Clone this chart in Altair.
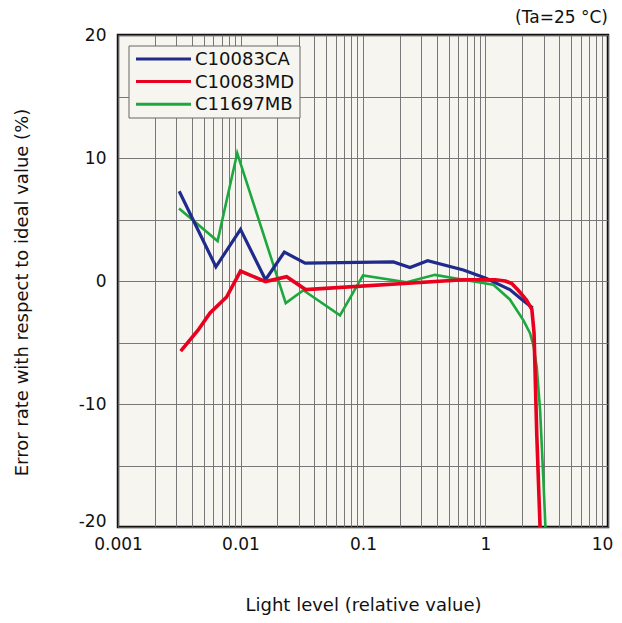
import altair as alt
import pandas as pd

SERIES = ["C10083CA", "C10083MD", "C11697MB"]
COLORS = ["#1f2a8c", "#e8001e", "#1ca83e"]
WIDTHS = [3.2, 3.6, 2.6]

CA_X = [0.00316, 0.0063, 0.01, 0.016, 0.0228, 0.0337, 0.177, 0.242, 0.337, 0.66, 1.02, 1.58, 1.98, 2.43]
CA_Y = [7.3, 1.15, 4.2, 0.1, 2.35, 1.45, 1.55, 1.1, 1.65, 0.9, 0.2, -0.7, -1.5, -2.2]

MD_X = [0.00325, 0.0045, 0.00564, 0.0077, 0.01, 0.016, 0.0238, 0.034, 0.66, 1.2, 1.45,
        1.64, 1.85, 2.16, 2.39, 2.49, 2.62, 2.8]
MD_Y = [-5.7, -4.0, -2.6, -1.3, 0.8, -0.05, 0.35, -0.7, 0.1, 0.1, 0.0,
        -0.2, -0.75, -1.55, -2.3, -4.2, -12.4, -20.5]

MB_X = [0.00315, 0.0065, 0.0094, 0.0234, 0.0326, 0.0649, 0.1, 0.227, 0.387, 0.66, 1.16,
        1.58, 2.04, 2.31, 2.47, 2.62, 2.79, 2.96, 3.1]
MB_Y = [5.9, 3.25, 10.4, -1.8, -0.75, -2.8, 0.45, -0.1, 0.5, 0.1, -0.3,
        -1.5, -3.2, -4.25, -5.3, -7.0, -10.5, -15.9, -20.5]

XS = [CA_X, MD_X, MB_X]
YS = [CA_Y, MD_Y, MB_Y]

X_GRID = [k * 10.0 ** e for e in range(-3, 1) for k in range(1, 10)] + [10.0]
Y_GRID = [-20, -15, -10, -5, 0, 5, 10, 15, 20]

FONT = "DejaVu Sans"
W, H = 490, 492

x_scale = alt.Scale(type="log", domain=[0.001, 10], nice=False)
y_scale = alt.Scale(domain=[-20, 20], nice=False, zero=False)

x_axis = alt.Axis(
    values=X_GRID,
    labelExpr="abs(log(datum.value)/LN10 - round(log(datum.value)/LN10)) < 0.000001 ? format(datum.value, '~g') : ''",
    labelOverlap=False, labelFlush=False, ticks=False, domain=False,
    labelOffset={"condition": {"test": "datum.value == 10", "value": -6}, "value": 0},
    grid=True, gridColor="#6a6a6a", gridWidth=1, gridOpacity=0.9,
    labelFont=FONT, labelFontSize=17, labelColor="#111", labelPadding=9,
    title="Light level (relative value)", titleFont=FONT, titleFontSize=18,
    titleFontWeight="normal", titleColor="#111", titleY=83, titleBaseline="alphabetic",
)
y_axis = alt.Axis(
    values=Y_GRID,
    labelExpr="datum.value % 10 == 0 ? '' + datum.value : ''",
    labelOverlap=False, labelFlush=False, ticks=False, domain=False,
    labelOffset={"condition": {"test": "datum.value == -20", "value": -6}, "value": 0},
    grid=True, gridColor="#6a6a6a", gridWidth=1, gridOpacity=0.9,
    labelFont=FONT, labelFontSize=17, labelColor="#111", labelPadding=12,
    title="Error rate with respect to ideal value (%)", titleFont=FONT, titleFontSize=18,
    titleFontWeight="normal", titleColor="#111", titleX=-96, titleY=257,
    titleAngle=-90, titleAlign="center", titleBaseline="middle",
)

layers = []
order = [2, 0, 1]
for i in order:
    df = pd.DataFrame({"x": XS[i], "y": YS[i], "s": SERIES[i]})
    layer = alt.Chart(df).mark_line(
        color=COLORS[i], strokeWidth=WIDTHS[i], clip=True, strokeJoin="miter"
    ).encode(
        x=alt.X("x:Q", scale=x_scale, axis=x_axis),
        y=alt.Y("y:Q", scale=y_scale, axis=y_axis),
    )
    layers.append(layer)

one = pd.DataFrame({"a": [0]})
# legend box
layers.append(
    alt.Chart(one).mark_rect(fill="#f6f5ef", stroke="#666", strokeWidth=1).encode(
        x=alt.value(11), x2=alt.value(182), y=alt.value(11), y2=alt.value(83)
    )
)
for r, (name, col) in enumerate(zip(SERIES, COLORS)):
    yy = 24 + r * 22.6
    layers.append(
        alt.Chart(one).mark_rule(color=col, strokeWidth=3).encode(
            x=alt.value(18), x2=alt.value(73), y=alt.value(yy)
        )
    )
    layers.append(
        alt.Chart(one).mark_text(
            text=name, font=FONT, fontSize=18, color="#111", align="left", baseline="middle"
        ).encode(x=alt.value(77), y=alt.value(yy + 1))
    )

layers.append(
    alt.Chart(one).mark_text(
        text="(Ta=25 °C)", font=FONT, fontSize=17, color="#111", align="right", baseline="middle"
    ).encode(x=alt.value(490), y=alt.value(-17))
)

chart = alt.layer(*layers).properties(
    width=W, height=H,
    autosize=alt.AutoSizeParams(type="none"),
    padding={"left": 110, "top": 27, "right": 6, "bottom": 88},
    background="white",
).configure_view(
    fill="#f6f5ef", stroke="#111", strokeWidth=2.5
)

chart.save("out.html", embed_options={"renderer": "svg", "actions": False})
